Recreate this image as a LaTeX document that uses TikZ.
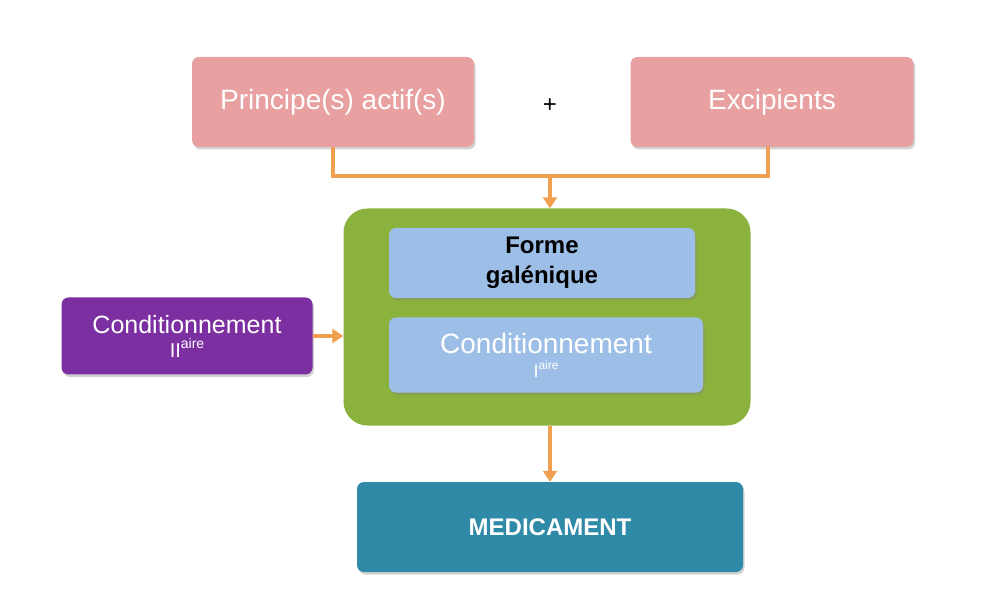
\documentclass[tikz,border=0pt]{standalone}
\usepackage{fontspec}
\setmainfont{Liberation Sans}
\usetikzlibrary{arrows.meta,shadows}
\definecolor{pinkbox}{HTML}{E8A0A0}
\definecolor{greenbox}{HTML}{8CB23E}
\definecolor{bluebox}{HTML}{9DBEE6}
\definecolor{purplebox}{HTML}{7B2FA0}
\definecolor{tealbox}{HTML}{2F8AA8}
\definecolor{arrowor}{HTML}{F0A050}
\newcommand{\ordsup}[3]{{\fontsize{#1}{#1}\selectfont #2\raisebox{0.45em}{\fontsize{#3}{#3}\selectfont aire}}}
\tikzset{
  boxbase/.style={rounded corners=7pt, draw=none, inner sep=0pt, align=center,
    drop shadow={shadow xshift=1.5pt, shadow yshift=-2.5pt, opacity=0.35}},
  pinkb/.style={boxbase, fill=pinkbox, text=white, font=\fontsize{28}{32}\selectfont},
  blueb/.style={boxbase, fill=bluebox},
  purpleb/.style={boxbase, fill=purplebox, text=white, font=\fontsize{25}{28}\selectfont},
  tealb/.style={boxbase, fill=tealbox, text=white, font=\bfseries\fontsize{24}{28}\selectfont},
  greenc/.style={rounded corners=24pt, fill=greenbox, draw=none, inner sep=0pt},
  conn/.style={draw=arrowor, line width=3.5pt},
  arr/.style={conn, -{Triangle[length=11pt,width=14pt]}},
}
\begin{document}
\begin{tikzpicture}[x=1pt,y=-1pt]
\useasboundingbox[fill=white] (0,0) rectangle (993,593);
% top boxes
\node[pinkb, minimum width=282pt, minimum height=90pt] (pa) at (333,102) {Principe(s) actif(s)};
\node[pinkb, minimum width=283pt, minimum height=90pt] (ex) at (772,102) {Excipients};
\node[font=\fontsize{24}{28}\selectfont] (plus) at (550,106) {+};
% green container
\node[greenc, minimum width=407pt, minimum height=217pt] (gr) at (547,317) {};
\node[blueb, minimum width=306pt, minimum height=70pt, font=\bfseries\fontsize{24}{30}\selectfont] (fg) at (542,263) {Forme\\galénique};
\node[blueb, minimum width=314pt, minimum height=75pt, text=white, font=\fontsize{28}{28}\selectfont] (c1) at (546,355) {Conditionnement\\[-4pt]\ordsup{18}{I}{12}};
% purple
\node[purpleb, minimum width=251pt, minimum height=77pt] (c2) at (187,336) {Conditionnement\\[-4pt]\ordsup{20}{II}{14}};
% medicament
\node[tealb, minimum width=386pt, minimum height=90pt] (med) at (550,527) {MEDICAMENT};
% connectors
\coordinate (j) at (550,176);
\draw[conn] (pa.south) |- (j);
\draw[conn] (ex.south -| 768,0) |- (j);
\draw[arr] (j) -- (gr.north -| j);
\draw[arr] (c2.east) -- (gr.west |- c2.east);
\draw[arr] (gr.south -| med.north) -- (med.north);
\end{tikzpicture}
\end{document}
